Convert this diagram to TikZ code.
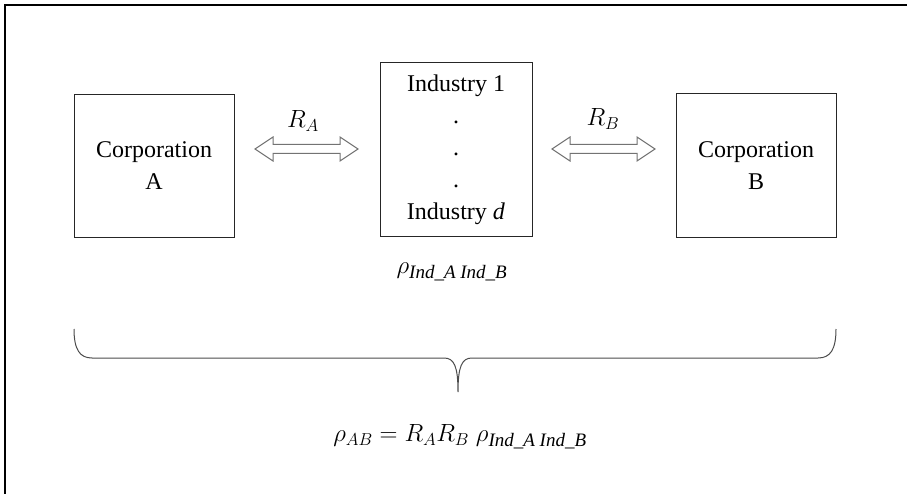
\documentclass[tikz,border=0pt]{standalone}
\usepackage{fontspec}
\setmainfont{Liberation Serif}
\usetikzlibrary{calc}
\tikzset{
  box/.style={draw=black!85, line width=1pt, align=center, inner sep=0pt},
  lbl/.style={inner sep=0pt, font=\fontsize{26}{30}\selectfont},
  harrow/.style={draw=black!55, line width=1pt, fill=white, line join=miter},
  frameline/.style={draw=black, line width=1.3pt},
  bracel/.style={draw=black!70, line width=1pt}
}
\newcommand{\hollowarrow}[1]{%
  \draw[harrow] (#1) -- ++(18,-12) -- ++(0,7.5) -- ++(67,0) -- ++(0,-7.5)
    -- ++(18,12) -- ++(-18,12) -- ++(0,-7.5) -- ++(-67,0) -- ++(0,7.5) -- cycle;}
\newcommand{\indsub}{\mbox{\fontsize{19}{19}\selectfont\itshape Ind\_A Ind\_B}}
\begin{document}
\begin{tikzpicture}[x=1pt,y=-1pt]
\useasboundingbox (0,0) rectangle (907,494);
\fontsize{24}{32}\selectfont
% frame
\coordinate (f1) at (5,494);
\coordinate (f2) at (5,5);
\coordinate (f3) at (907,5);
\draw[frameline] (f1) -- (f2) -- (f3);
% boxes
\node[box, minimum width=160, minimum height=143] (A) at (154,166) {Corporation\\A};
\node[box, minimum width=152, minimum height=174] (I) at (456,150)
  {Industry 1\\.\\.\\.\\Industry \textit{d}};
\node[box, minimum width=160, minimum height=144] (B) at (756,166) {Corporation\\B};
% hollow double arrows
\coordinate (aL) at (255,149);
\coordinate (bL) at (552,149);
\hollowarrow{aL}
\hollowarrow{bL}
\node[lbl] (RA) at (303,121) {$R_A$};
\node[lbl] (RB) at (603,119) {$R_B$};
% rho label
\node[lbl] (rho) at (452,272) {$\rho_{\indsub}$};
% brace
\coordinate (bl) at (74,329);
\coordinate (br) at (836,329);
\coordinate (tip) at (458,392);
\draw[bracel] (bl) .. controls (74,350) and (80,358) .. (92,358)
  -- (444,358) .. controls (454,358) and (458,366) .. (tip)
  .. controls (458,366) and (462,358) .. (472,358)
  -- (818,358) .. controls (830,358) and (836,350) .. (br);
% formula
\node[lbl] (eq) at (460,437) {$\rho_{AB} = R_A R_B\;\rho_{\indsub}$};
\end{tikzpicture}
\end{document}
